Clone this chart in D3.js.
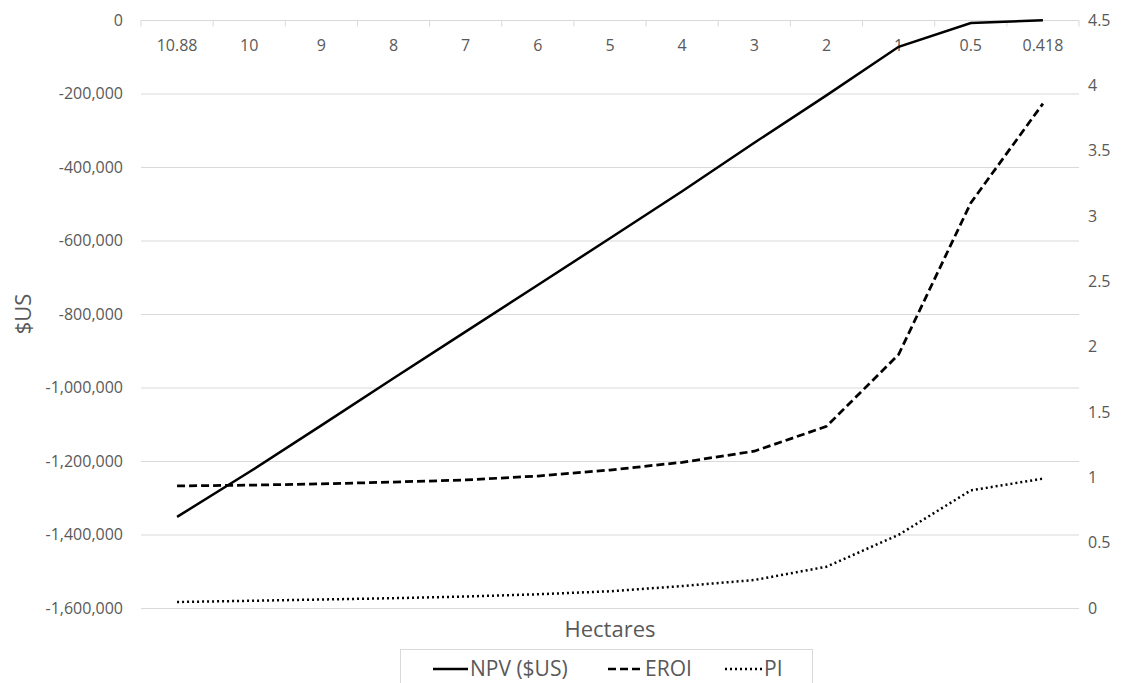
<!DOCTYPE html>
<html>
<head>
<meta charset="utf-8">
<script src="https://cdn.jsdelivr.net/npm/d3@7/dist/d3.min.js"></script>
<style>
	body { margin: 0; background: #fff; }
	text { font-family: "Open Sans", sans-serif; fill: #595959; }
	.grid line { stroke: #d9d9d9; stroke-width: 1; }
</style>
</head>
<body>
<svg id="chart"></svg>
<script>
//data
var hectares = ["10.88", "10", "9", "8", "7", "6", "5", "4", "3", "2", "1", "0.5", "0.418"];
var npv = [-1352000, -1230000, -1103000, -975000, -848000, -721000, -594000, -466000, -334000, -205000, -73000, -8000, -1000];
var eroi = [0.934, 0.94, 0.95, 0.964, 0.98, 1.01, 1.056, 1.115, 1.2, 1.39, 1.94, 3.1, 3.86];
var pi = [0.046, 0.055, 0.065, 0.075, 0.088, 0.105, 0.128, 0.168, 0.214, 0.316, 0.56, 0.9, 0.99];

var leftTicks = [0, -200000, -400000, -600000, -800000, -1000000, -1200000, -1400000, -1600000];
var rightTicks = [0, 0.5, 1, 1.5, 2, 2.5, 3, 3.5, 4, 4.5];

var width = 1123, height = 683;
var plotLeft = 141, plotRight = 1079, plotTop = 20, plotBottom = 608;

var svg = d3.select("#chart")
	.attr("width", width)
	.attr("height", height);

//scales
var x = d3.scaleBand().domain(hectares).range([plotLeft, plotRight]);
var y = d3.scaleLinear().domain([-1600000, 0]).range([plotBottom, plotTop]);
var y2 = d3.scaleLinear().domain([0, 4.5]).range([plotBottom, plotTop]);

function cx(d) { return x(d) + x.bandwidth() / 2; }

//gridlines from left axis
svg.append("g")
	.attr("class", "grid")
	.selectAll("line")
	.data(leftTicks.filter(function(d) { return d != 0; }))
	.enter().append("line")
	.attr("x1", plotLeft)
	.attr("x2", plotRight)
	.attr("y1", function(d) { return y(d) + 0.5; })
	.attr("y2", function(d) { return y(d) + 0.5; });

//category axis sits on the zero line at the top
var xAxis = svg.append("g")
	.attr("transform", "translate(0," + (y(0) + 0.5) + ")");
xAxis.append("line")
	.attr("x1", plotLeft).attr("x2", plotRight)
	.attr("stroke", "#d9d9d9");
xAxis.selectAll(".tick")
	.data(hectares.map(function(d) { return x(d); }).concat([plotRight]))
	.enter().append("line")
	.attr("class", "tick")
	.attr("x1", function(d) { return d; })
	.attr("x2", function(d) { return d; })
	.attr("y1", 0).attr("y2", 6)
	.attr("stroke", "#d9d9d9");
xAxis.selectAll("text")
	.data(hectares)
	.enter().append("text")
	.attr("x", function(d) { return cx(d); })
	.attr("y", 30)
	.attr("text-anchor", "middle")
	.style("font-size", "16px")
	.text(function(d) { return d; });

//left axis labels
svg.append("g").selectAll("text")
	.data(leftTicks)
	.enter().append("text")
	.attr("x", 123)
	.attr("y", function(d) { return y(d); })
	.attr("dy", "0.35em")
	.attr("text-anchor", "end")
	.style("font-size", "16px")
	.text(function(d) { return d3.format(",")(d).replace("−", "-"); });

//right axis labels
svg.append("g").selectAll("text")
	.data(rightTicks)
	.enter().append("text")
	.attr("x", 1088)
	.attr("y", function(d) { return y2(d); })
	.attr("dy", "0.35em")
	.style("font-size", "16px")
	.text(function(d) { return d; });

//lines
var npvLine = d3.line()
	.x(function(d, i) { return cx(hectares[i]); })
	.y(function(d) { return y(d); });
var ratioLine = d3.line()
	.x(function(d, i) { return cx(hectares[i]); })
	.y(function(d) { return y2(d); });

svg.append("path")
	.attr("d", npvLine(npv))
	.attr("fill", "none")
	.attr("stroke", "#000")
	.attr("stroke-width", 2.5);

svg.append("path")
	.attr("d", ratioLine(eroi))
	.attr("fill", "none")
	.attr("stroke", "#000")
	.attr("stroke-width", 2.75)
	.attr("stroke-dasharray", "8,4");

svg.append("path")
	.attr("d", ratioLine(pi))
	.attr("fill", "none")
	.attr("stroke", "#000")
	.attr("stroke-width", 2.5)
	.attr("stroke-dasharray", "2,3");

//axis titles
svg.append("text")
	.attr("x", (plotLeft + plotRight) / 2)
	.attr("y", 637)
	.attr("text-anchor", "middle")
	.style("font-size", "22px")
	.text("Hectares");

svg.append("text")
	.attr("transform", "translate(31," + ((plotTop + plotBottom) / 2) + ") rotate(-90)")
	.attr("text-anchor", "middle")
	.style("font-size", "22px")
	.text("$US");

//legend
var legend = svg.append("g");
legend.append("rect")
	.attr("x", 400.5).attr("y", 649.5)
	.attr("width", 412).attr("height", 45)
	.attr("fill", "none")
	.attr("stroke", "#d9d9d9");

var items = [
	{name: "NPV ($US)", dash: null, x0: 433, x1: 468},
	{name: "EROI", dash: "8,4", x0: 608, x1: 643},
	{name: "PI", dash: "2,3", x0: 725, x1: 762}
];
items.forEach(function(it) {
	legend.append("line")
		.attr("x1", it.x0).attr("x2", it.x1)
		.attr("y1", 669).attr("y2", 669)
		.attr("stroke", "#000")
		.attr("stroke-width", 2.5)
		.attr("stroke-dasharray", it.dash);
	legend.append("text")
		.attr("x", it.x1 + 2)
		.attr("y", 676)
		.style("font-size", "21px")
		.text(it.name);
});
</script>
</body>
</html>
